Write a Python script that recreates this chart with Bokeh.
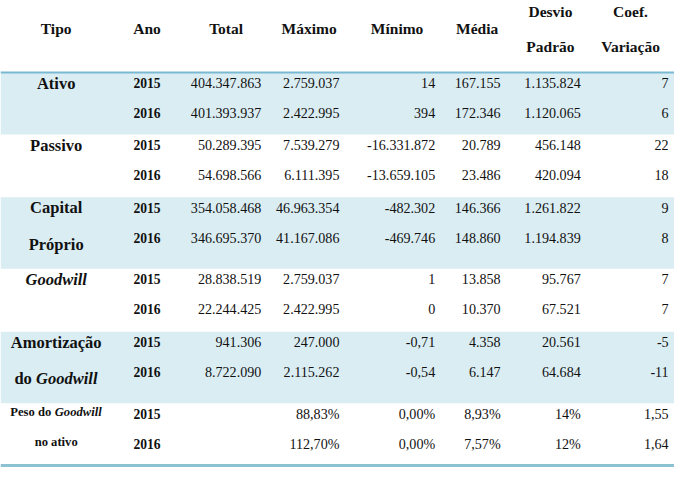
from bokeh.plotting import figure
from bokeh.models import Range1d
from bokeh.core.properties import value
from bokeh.embed import file_html
from bokeh.resources import INLINE

# ---------------- data ----------------
header_lines = [["Tipo"], ["Ano"], ["Total"], ["Máximo"], ["Mínimo"], ["Média"],
                ["Desvio", "Padrão"], ["Coef.", "Variação"]]
# tipo labels: lines of (text, italic) segments
tipo_labels = [
    [[("Ativo", False)]],
    [[("Passivo", False)]],
    [[("Capital", False)], [("Próprio", False)]],
    [[("Goodwill", True)]],
    [[("Amortização", False)], [("do ", False), ("Goodwill", True)]],
    [[("Peso do ", False), ("Goodwill", True)], [("no ativo", False)]],
]
anos = ["2015", "2016"]
total = ["404.347.863", "401.393.937", "50.289.395", "54.698.566", "354.058.468", "346.695.370",
         "28.838.519", "22.244.425", "941.306", "8.722.090", "", ""]
maximo = ["2.759.037", "2.422.995", "7.539.279", "6.111.395", "46.963.354", "41.167.086",
          "2.759.037", "2.422.995", "247.000", "2.115.262", "88,83%", "112,70%"]
minimo = ["14", "394", "-16.331.872", "-13.659.105", "-482.302", "-469.746",
          "1", "0", "-0,71", "-0,54", "0,00%", "0,00%"]
media = ["167.155", "172.346", "20.789", "23.486", "146.366", "148.860",
         "13.858", "10.370", "4.358", "6.147", "8,93%", "7,57%"]
desvio = ["1.135.824", "1.120.065", "456.148", "420.094", "1.261.822", "1.194.839",
          "95.767", "67.521", "20.561", "64.684", "14%", "12%"]
coef = ["7", "6", "22", "18", "9", "8", "7", "7", "-5", "-11", "1,55", "1,64"]

# ---------------- layout ----------------
W, H = 690, 484
FS = 0.97  # font scale (figure is slightly smaller than the reference canvas)
FONT = value("Liberation Serif")
INK = "#111111"
BAND = "#daedf3"

header_bottom = 74.5
group_heights = [64, 65, 74, 65, 74, 63]
shaded = [True, False, True, False, True, False]
row_offset, row_pitch = 11, 31

tipo_center = 57
ano_center = 150
header_centers = [57, 150, 231, 316, 406, 488, 563, 645]
num_right = [267, 347, 445, 512, 594, 684]
num_cols = [total, maximo, minimo, media, desvio, coef]

# Times (Liberation Serif) bold / bold-italic glyph widths (per 1000 em)
BW = {" ": 250, "d": 556, "o": 500, "P": 611, "e": 444, "s": 389}
BIW = {"G": 722, "o": 500, "d": 500, "w": 667, "i": 278, "l": 278}


def tw(text, italic, size):
    table = BIW if italic else BW
    return sum(table.get(c, 500) for c in text) * size / 1000.0


p = figure(width=674, height=468, x_range=Range1d(0, W), y_range=Range1d(H, 0),
           output_backend="svg", toolbar_location=None,
           x_axis_location=None, y_axis_location=None,
           min_border=0, outline_line_color=None)
p.grid.visible = False
p.background_fill_color = "white"
p.border_fill_color = "white"

# bands
tops, bottoms = [], []
y = header_bottom
group_tops = []
for h, sh in zip(group_heights, shaded):
    group_tops.append(y)
    if sh:
        tops.append(y)
        bottoms.append(y + h)
    y += h
table_bottom = y
p.quad(left=0, right=W, top=tops, bottom=bottoms, fill_color=BAND, line_color=None)

# rules
p.segment(x0=[0], x1=[W], y0=[header_bottom], y1=[header_bottom],
          line_color="#79b9d2", line_width=2)
p.segment(x0=[0], x1=[W], y0=[table_bottom + 1.5], y1=[table_bottom + 1.5],
          line_color="#8cc2d2", line_width=3)

# header
hx, hy, ht = [], [], []
for cx, lines in zip(header_centers, header_lines):
    if len(lines) == 1:
        ys = [29]
    else:
        ys = [11, 48]
    for t, yy in zip(lines, ys):
        hx.append(cx); hy.append(yy); ht.append(t)
p.text(x=hx, y=hy, text=ht, text_font=FONT, text_font_style="bold",
       text_font_size=f"{16 * FS:.1f}px", text_align="center", text_baseline="middle",
       text_color=INK)

# row positions
row_y = []
for gt in group_tops:
    for k in range(2):
        row_y.append(gt + row_offset + row_pitch * k)

# years
p.text(x=[ano_center] * len(row_y), y=row_y, text=anos * len(group_tops),
       text_font=FONT, text_font_style="bold", text_font_size=f"{14 * FS:.1f}px",
       text_align="center", text_baseline="middle", text_color=INK)

# numeric columns
for rx, col in zip(num_right, num_cols):
    p.text(x=[rx] * len(col), y=row_y, text=col, text_font=FONT,
           text_font_size=f"{14.5 * FS:.1f}px", text_align="right",
           text_baseline="middle", text_color=INK)

# tipo labels
for g, label in enumerate(tipo_labels):
    small = g == len(tipo_labels) - 1
    size = 13 if small else 17
    pitch = 2.2 * size
    y0 = row_y[2 * g]
    for li, line in enumerate(label):
        yy = y0 + pitch * li
        if small and li == 0:
            yy = y0 - 2
        if small and li == 1:
            yy = row_y[2 * g + 1] - 2
        widths = [tw(t, it, size) for t, it in line]
        left = tipo_center - sum(widths) / 2.0
        for (t, it), w in zip(line, widths):
            if len(line) == 1:
                p.text(x=[tipo_center], y=[yy], text=[t], text_font=FONT,
                       text_font_style="bold italic" if it else "bold",
                       text_font_size=f"{size * FS:.1f}px", text_align="center",
                       text_baseline="middle", text_color=INK)
            else:
                p.text(x=[left], y=[yy], text=[t], text_font=FONT,
                       text_font_style="bold italic" if it else "bold",
                       text_font_size=f"{size * FS:.1f}px", text_align="left",
                       text_baseline="middle", text_color=INK)
            left += w

open("out.html", "w").write(file_html(p, INLINE))
